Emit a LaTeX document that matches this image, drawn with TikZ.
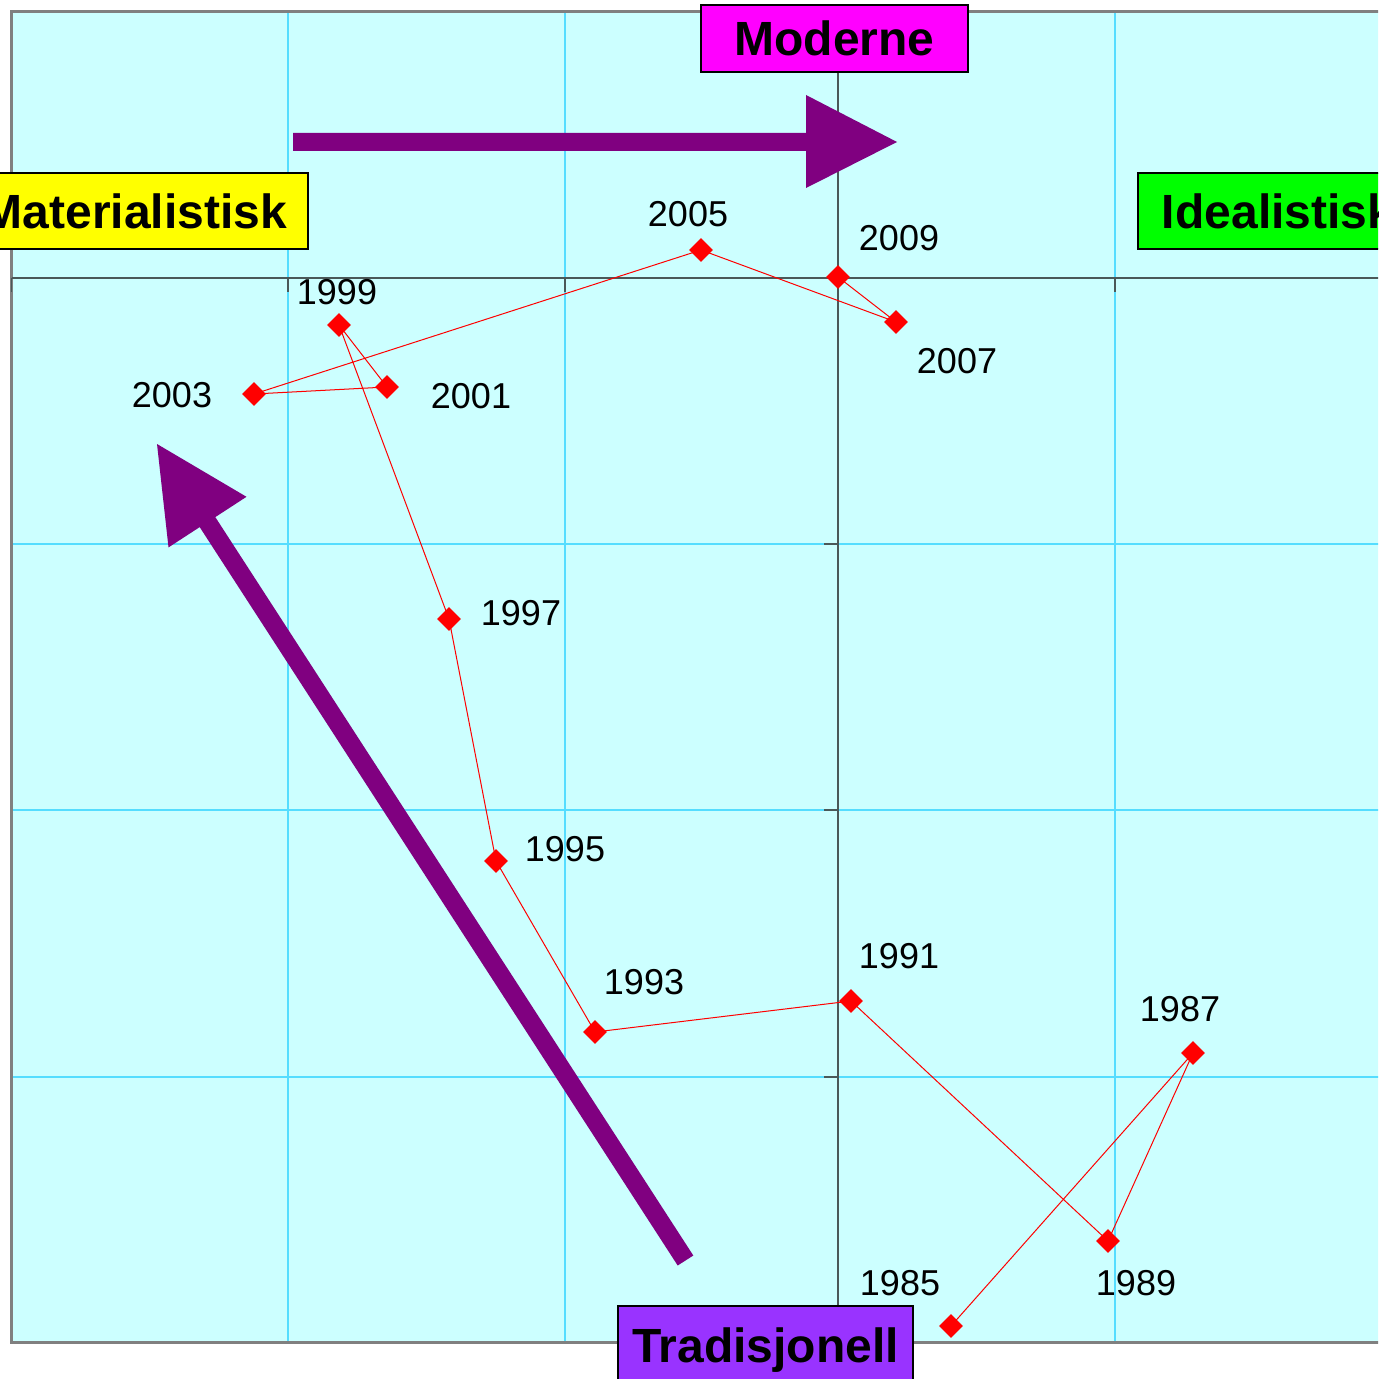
\documentclass[tikz,border=0pt]{standalone}
\usepackage{fontspec}
\setmainfont{Liberation Sans}
\usetikzlibrary{shapes.geometric}
\definecolor{bgcyan}{HTML}{CCFFFF}
\definecolor{gridcyan}{HTML}{55DDFF}
\definecolor{axisgray}{HTML}{4A5858}
\definecolor{framegray}{HTML}{808080}
\definecolor{arrowpurple}{HTML}{800080}
\definecolor{labmag}{HTML}{FF00FF}
\definecolor{labyel}{HTML}{FFFF00}
\definecolor{labgreen}{HTML}{00FF00}
\definecolor{labpurple}{HTML}{9933FF}
\begin{document}
\begin{tikzpicture}[x=0.5pt,y=-0.5pt,
  datapt/.style={shape=diamond, fill=red, inner sep=0pt, minimum width=12pt, minimum height=12pt},
  yearlab/.style={font=\fontsize{18pt}{20pt}\selectfont, inner sep=0pt},
  tagbox/.style={draw=black, line width=1.25pt, font=\fontsize{24pt}{26pt}\selectfont\bfseries, inner sep=0pt, text height=17.2pt, text depth=0pt},
  gridline/.style={gridcyan, line width=0.9pt},
  axisline/.style={axisgray, line width=0.8pt},
  link/.style={red, line width=0.5pt},
  bigarrow/.style={fill=arrowpurple}
]
\useasboundingbox (0,0) rectangle (1378,1379);
\clip (0,0) rectangle (1378,1379);
% plot background and frame
\fill[bgcyan] (11.5,11.5) rectangle (1400,1342.5);
% grid
\foreach \x in {288,565,1115} \draw[gridline] (\x,11.5) -- (\x,1342.5);
\foreach \y in {544,810,1077} \draw[gridline] (11.5,\y) -- (1400,\y);
\draw[framegray, line width=1.5pt] (1400,11.5) -- (11.5,11.5) -- (11.5,1342.5) -- (1400,1342.5);
% axes
\draw[axisline] (11.5,278) -- (1400,278);
\draw[axisline] (838,11.5) -- (838,1342.5);
\foreach \x in {11.5,288,565,838,1115} \draw[axisline] (\x,278) -- (\x,292);
\foreach \y in {544,810,1077} \draw[axisline] (838,\y) -- (824,\y);
% data points
\node[datapt] (p1985) at (951,1326) {};
\node[datapt] (p1987) at (1193,1053) {};
\node[datapt] (p1989) at (1108,1241) {};
\node[datapt] (p1991) at (851,1001) {};
\node[datapt] (p1993) at (595,1032) {};
\node[datapt] (p1995) at (496,861) {};
\node[datapt] (p1997) at (449,619) {};
\node[datapt] (p1999) at (339,325) {};
\node[datapt] (p2001) at (387,387) {};
\node[datapt] (p2003) at (254,394) {};
\node[datapt] (p2005) at (701,250) {};
\node[datapt] (p2007) at (896,322) {};
\node[datapt] (p2009) at (838,277) {};
\draw[link] (p1985.center) -- (p1987.center) -- (p1989.center) -- (p1991.center) -- (p1993.center) -- (p1995.center) -- (p1997.center) -- (p1999.center) -- (p2001.center) -- (p2003.center) -- (p2005.center) -- (p2007.center) -- (p2009.center);
% year labels
\node[yearlab] (l1985) at (900,1283) {1985};
\node[yearlab] (l1987) at (1180,1009) {1987};
\node[yearlab] (l1989) at (1136,1283) {1989};
\node[yearlab] (l1991) at (899,956) {1991};
\node[yearlab] (l1993) at (644,982) {1993};
\node[yearlab] (l1995) at (565,849) {1995};
\node[yearlab] (l1997) at (521,613) {1997};
\node[yearlab] (l1999) at (337,292) {1999};
\node[yearlab] (l2001) at (471,396) {2001};
\node[yearlab] (l2003) at (172,395) {2003};
\node[yearlab] (l2005) at (688,214) {2005};
\node[yearlab] (l2007) at (957,361) {2007};
\node[yearlab] (l2009) at (899,238) {2009};
% big arrows
\fill[bigarrow] (293,133) -- (806,133) -- (806,95) -- (897,142) -- (806,188) -- (806,151) -- (293,151) -- cycle;
\fill[bigarrow] (693.3,1255.5) -- (215.3,517.1) -- (246.5,496.8) -- (157,444) -- (168.5,547.4) -- (199.7,527.1) -- (677.7,1265.5) -- cycle;
% tag boxes
\node[tagbox, fill=labmag, minimum width=133.5pt, minimum height=33.5pt] (moderne) at (834.5,38.5) {Moderne};
\node[tagbox, fill=labyel, minimum width=173pt, minimum height=38pt] (materialistisk) at (135,211) {Materialistisk};
\node[tagbox, fill=labgreen, minimum width=140pt, minimum height=38pt] (idealistisk) at (1278,211) {Idealistisk};
\node[tagbox, fill=labpurple, minimum width=147.5pt, minimum height=39pt] (tradisjonell) at (765.5,1345) {Tradisjonell};
\end{tikzpicture}
\end{document}
